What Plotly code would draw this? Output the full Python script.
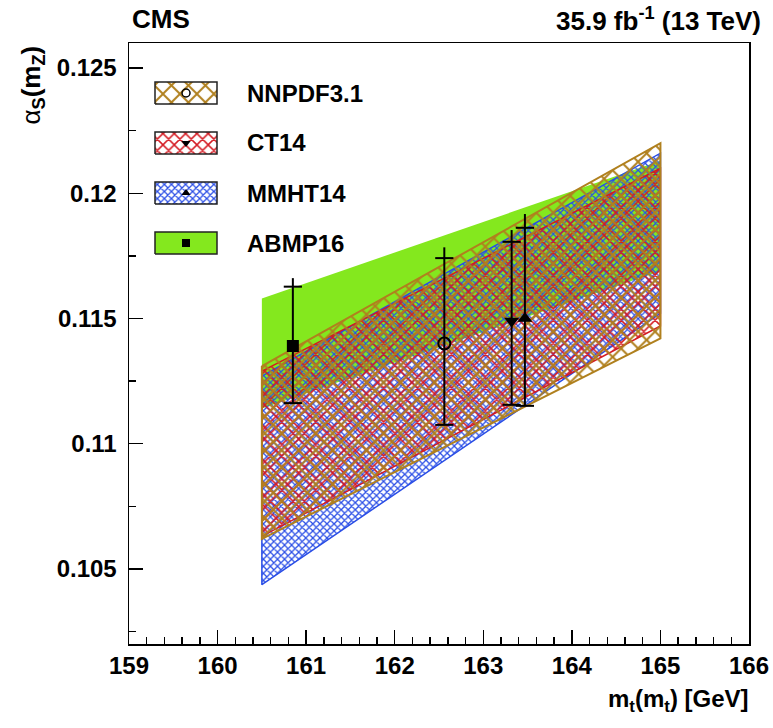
import plotly.graph_objects as go

# ---------------- data ----------------
pdf_names = ["NNPDF3.1", "CT14", "MMHT14", "ABMP16"]

band_x = [160.5, 165.0]
# band edges: (top at left, top at right, bottom at right, bottom at left)
nnpdf_band = [0.1131, 0.1220, 0.1142, 0.1062]
ct14_band = [0.1129, 0.1210, 0.1147, 0.1063]
mmht_band = [0.1127, 0.1216, 0.1152, 0.10437]
abmp_band = [0.1158, 0.1213, 0.1169, 0.1114]

# best fit points
pt_mt = [162.56, 163.32, 163.47, 160.85]
pt_as = [0.1140, 0.1149, 0.1150, 0.1139]
pt_lo = [0.11075, 0.11155, 0.11151, 0.11162]
pt_hi_inner = [0.11741, 0.11806, 0.11862, 0.11627]
pt_hi_total = [0.11784, 0.11853, 0.11917, 0.11661]

x_range = [159, 166]
y_range = [0.102, 0.126]
y_tickvals = [0.105, 0.11, 0.115, 0.12, 0.125]
y_ticktext = ["0.105", "0.11", "0.115", "0.12", "0.125"]

# ---------------- style ----------------
W, H = 773, 728
ML, MR, MT, MB = 129, 24, 43, 84
PW, PH = W - ML - MR, H - MT - MB


def px(xp):
    return (xp - ML) / PW


def py(yp):
    return (H - MB - yp) / PH


FONT = "Liberation Sans"
col_nnpdf = "#b0801e"
col_ct14 = "#d41a22"
col_mmht = "#2a4ee6"
col_abmp = "#84e81e"

styles = {
    "NNPDF3.1": dict(color=col_nnpdf, size=12, solidity=0.3, lw=2.0),
    "CT14": dict(color=col_ct14, size=8, solidity=0.34, lw=1.5),
    "MMHT14": dict(color=col_mmht, size=5, solidity=0.44, lw=1.5),
}
markers = {
    "NNPDF3.1": dict(symbol="circle-open", size=12, line=dict(width=2, color="black"), color="black"),
    "CT14": dict(symbol="triangle-down", size=13, color="black"),
    "MMHT14": dict(symbol="triangle-up", size=13, color="black"),
    "ABMP16": dict(symbol="square", size=12, color="black"),
}
bands = {"NNPDF3.1": nnpdf_band, "CT14": ct14_band, "MMHT14": mmht_band, "ABMP16": abmp_band}

fig = go.Figure()


def band_poly(b):
    xs = [band_x[0], band_x[1], band_x[1], band_x[0], band_x[0]]
    ys = [b[0], b[1], b[2], b[3], b[0]]
    return xs, ys


def pattern(st):
    return dict(shape="x", fgcolor=st["color"], fgopacity=1, size=st["size"], solidity=st["solidity"])


# ABMP16 solid green band
xs, ys = band_poly(abmp_band)
fig.add_trace(go.Scatter(x=xs, y=ys, mode="lines", fill="toself", fillcolor=col_abmp,
                         line=dict(width=0, color=col_abmp), hoverinfo="skip", showlegend=False))

# hatched bands
for name in ["MMHT14", "CT14", "NNPDF3.1"]:
    st = styles[name]
    xs, ys = band_poly(bands[name])
    fig.add_trace(go.Scatter(
        x=xs, y=ys, mode="lines", fill="toself", fillcolor="rgba(0,0,0,0)",
        fillpattern=pattern(st),
        line=dict(width=st["lw"], color=st["color"]), hoverinfo="skip", showlegend=False))

# error bars and points
order = ["NNPDF3.1", "CT14", "MMHT14", "ABMP16"]
for i, name in enumerate(order):
    fig.add_trace(go.Scatter(x=[pt_mt[i], pt_mt[i]], y=[pt_lo[i], pt_hi_total[i]], mode="lines",
                             line=dict(color="black", width=2), showlegend=False, hoverinfo="skip"))
    fig.add_trace(go.Scatter(x=[pt_mt[i], pt_mt[i]], y=[pt_lo[i], pt_hi_inner[i]], mode="markers",
                             marker=dict(symbol="line-ew", size=13, line=dict(width=2, color="black")),
                             showlegend=False, hoverinfo="skip"))
    fig.add_trace(go.Scatter(x=[pt_mt[i]], y=[pt_as[i]], mode="markers",
                             marker=markers[name], showlegend=False, hoverinfo="skip"))

# ---------------- legend (drawn on a pixel overlay axis) ----------------
leg_box_x = [155, 217]          # image pixels
leg_box_yc = [93, 143, 193, 243]
leg_box_h = 22
leg_text_x = 245

for i, name in enumerate(order):
    x0, x1 = leg_box_x[0] - ML, leg_box_x[1] - ML
    yc = H - MB - leg_box_yc[i]
    y0, y1 = yc - leg_box_h / 2, yc + leg_box_h / 2
    bx = [x0, x1, x1, x0, x0]
    by = [y0, y0, y1, y1, y0]
    if name == "ABMP16":
        fig.add_trace(go.Scatter(x=bx, y=by, xaxis="x2", yaxis="y2", mode="lines", fill="toself",
                                 fillcolor=col_abmp, line=dict(color="#222222", width=1.5),
                                 hoverinfo="skip", showlegend=False))
    else:
        st = styles[name]
        fig.add_trace(go.Scatter(x=bx, y=by, xaxis="x2", yaxis="y2", mode="lines", fill="toself",
                                 fillcolor="rgba(0,0,0,0)", fillpattern=pattern(st),
                                 line=dict(color="#222222", width=1.5), hoverinfo="skip", showlegend=False))
    mk = dict(markers[name])
    mk = {**mk, "size": 8}
    if name == "NNPDF3.1":
        mk["line"] = dict(width=1.5, color="black")
    fig.add_trace(go.Scatter(x=[(x0 + x1) / 2], y=[yc], xaxis="x2", yaxis="y2", mode="markers",
                             marker=mk, hoverinfo="skip", showlegend=False))
    fig.add_annotation(x=px(leg_text_x), y=py(leg_box_yc[i]), xref="paper", yref="paper",
                       text="<b>%s</b>" % name, showarrow=False, xanchor="left", yanchor="middle",
                       font=dict(family=FONT, size=24, color="black"))

# ---------------- axes ----------------
axis_font = dict(family=FONT, size=24, color="black")
fig.update_layout(
    width=W, height=H,
    margin=dict(l=ML, r=MR, t=MT, b=MB, autoexpand=False),
    paper_bgcolor="white", plot_bgcolor="white",
    showlegend=False,
    xaxis=dict(range=x_range, dtick=1, tick0=159, ticks="inside", ticklen=14, tickwidth=1.5,
               tickcolor="black", showline=True, linecolor="black", linewidth=1.5, mirror=True,
               showgrid=False, zeroline=False, tickfont=axis_font, tickprefix="<b>", ticksuffix="</b>",
               ticklabeloverflow="allow", automargin=False,
               minor=dict(dtick=0.2, ticks="inside", ticklen=7, tickwidth=1.5, tickcolor="black", showgrid=False)),
    yaxis=dict(range=y_range, tickvals=y_tickvals, ticktext=["<b>%s</b>" % t for t in y_ticktext],
               ticks="inside", ticklen=14, tickwidth=1.5, tickcolor="black", showline=True,
               linecolor="black", linewidth=1.5, mirror=True, showgrid=False, zeroline=False,
               tickfont=axis_font, ticklabelstandoff=6, automargin=False,
               minor=dict(tickvals=[0.1025, 0.1075, 0.1125, 0.1175, 0.1225], ticks="inside", ticklen=7,
                          tickwidth=1.5, tickcolor="black", showgrid=False)),
    xaxis2=dict(domain=[0, 1], range=[0, PW], anchor="y2", overlaying="x", visible=False,
                fixedrange=True, automargin=False),
    yaxis2=dict(domain=[0, 1], range=[0, PH], anchor="x2", overlaying="y", visible=False,
                fixedrange=True, automargin=False),
)

# texts
fig.add_annotation(x=px(130), y=py(19), xref="paper", yref="paper", text="<b>CMS</b>", showarrow=False,
                   xanchor="left", yanchor="middle", font=dict(family=FONT, size=26, color="black"))
fig.add_annotation(x=px(763), y=py(19), xref="paper", yref="paper",
                   text="<b>35.9 fb<sup>-1</sup> (13 TeV)</b>", showarrow=False,
                   xanchor="right", yanchor="middle", font=dict(family=FONT, size=26, color="black"))
fig.add_annotation(x=px(751), y=py(700), xref="paper", yref="paper",
                   text="<b>m<sub>t</sub>(m<sub>t</sub>) [GeV]</b>", showarrow=False,
                   xanchor="right", yanchor="middle", font=dict(family=FONT, size=24, color="black"))
fig.add_annotation(x=px(32), y=py(44), xref="paper", yref="paper",
                   text="α<sub><b>S</b></sub><b>(m<sub>Z</sub>)</b>", showarrow=False, textangle=-90,
                   xanchor="center", yanchor="top", font=dict(family=FONT, size=26, color="black"))

fig.write_html("out.html", post_script="document.body.style.margin='0';",
               config={"displayModeBar": False, "staticPlot": True})
